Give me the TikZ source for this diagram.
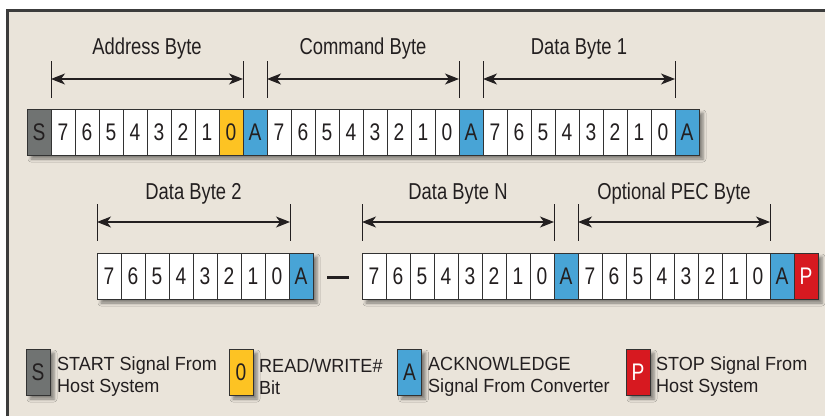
\documentclass[tikz,border=0pt]{standalone}
\usepackage{fontspec}
\setmainfont{Liberation Sans}[FakeStretch=0.8]
\newfontfamily\legfont{Liberation Sans}[FakeStretch=0.95]
\usetikzlibrary{arrows.meta,shadows.blur}
\definecolor{bgc}{RGB}{234,228,218}
\definecolor{framec}{RGB}{60,60,60}
\definecolor{inkc}{RGB}{35,31,32}
\definecolor{edgec}{RGB}{50,50,50}
\definecolor{grayc}{RGB}{112,115,114}
\definecolor{yelc}{RGB}{253,195,35}
\definecolor{bluec}{RGB}{72,164,214}
\definecolor{redc}{RGB}{215,25,32}
\tikzset{
  cell/.style={rectangle, draw=edgec, line width=0.9pt, minimum width=24pt,
    minimum height=46pt, inner sep=0pt, text=inkc, font=\fontsize{24}{24}\selectfont},
  cW/.style={fill=white},
  cS/.style={fill=grayc},
  cY/.style={fill=yelc},
  cA/.style={fill=bluec},
  cP/.style={fill=redc, text=white},
  rowshade/.style={fill=white, blur shadow={shadow xshift=4pt, shadow yshift=-4pt,
    shadow blur radius=3pt, shadow opacity=45}},
  lab/.style={anchor=base, inner sep=0pt, text=inkc, font=\fontsize{23}{23}\selectfont},
  dimline/.style={draw=inkc, line width=1.1pt,
    {Stealth[length=14pt,width=11pt,inset=4pt]}-{Stealth[length=14pt,width=11pt,inset=4pt]}},
  tick/.style={draw=inkc, line width=0.9pt},
  legbox/.style={cell, blur shadow={shadow xshift=4pt, shadow yshift=-4pt,
    shadow blur radius=3pt, shadow opacity=45}},
  legtext/.style={anchor=west, inner sep=0pt, align=left, text=inkc,
    font=\legfont\fontsize{19}{22}\selectfont},
}
\begin{document}
\begin{tikzpicture}[x=1pt,y=-1pt]
\useasboundingbox (0,0) rectangle (825,416);
\fill[bgc] (7,10) rectangle (825,416);
\draw[framec, line width=2.7pt, line join=miter] (7.3,416) -- (7.3,10.7) -- (825,10.7);

% ---------- row 1 ----------
\path[rowshade] (27,109) rectangle (699,155);
\foreach \t/\s [count=\i from 0] in {S/cS,7/cW,6/cW,5/cW,4/cW,3/cW,2/cW,1/cW,0/cY,A/cA,
  7/cW,6/cW,5/cW,4/cW,3/cW,2/cW,1/cW,0/cW,A/cA,
  7/cW,6/cW,5/cW,4/cW,3/cW,2/cW,1/cW,0/cW,A/cA}
  \node[cell,\s] (r1c\i) at ({39+24*\i},132) {\t};

% ---------- row 2 ----------
\path[rowshade] (97,253) rectangle (313,299);
\foreach \t/\s [count=\i from 0] in {7/cW,6/cW,5/cW,4/cW,3/cW,2/cW,1/cW,0/cW,A/cA}
  \node[cell,\s] (r2a\i) at ({109+24*\i},276) {\t};
\path[rowshade] (362,253) rectangle (818,299);
\foreach \t/\s [count=\i from 0] in {7/cW,6/cW,5/cW,4/cW,3/cW,2/cW,1/cW,0/cW,A/cA,
  7/cW,6/cW,5/cW,4/cW,3/cW,2/cW,1/cW,0/cW,A/cA,P/cP}
  \node[cell,\s] (r2b\i) at ({374+24*\i},276) {\t};

\coordinate (dashL) at (327,277);
\coordinate (dashR) at (349,277);
\draw[inkc, line width=3pt] (dashL) -- (dashR);

% ---------- dimension arrows, row 1 ----------
\foreach \nm/\xa/\xb/\txt in {addr/51/243/Address Byte, cmd/267/459/Command Byte, db1/483/675/Data Byte 1}{
  \coordinate (\nm Lt) at (\xa,61); \coordinate (\nm Lb) at (\xa,98);
  \coordinate (\nm Rt) at (\xb,61); \coordinate (\nm Rb) at (\xb,98);
  \coordinate (\nm L) at (\xa,79); \coordinate (\nm R) at (\xb,79);
  \draw[tick] (\nm Lt) -- (\nm Lb);
  \draw[tick] (\nm Rt) -- (\nm Rb);
  \draw[dimline] (\nm L) -- (\nm R);
  \node[lab] (\nm lab) at ({(\xa+\xb)/2},54) {\txt};
}
% ---------- dimension arrows, row 2 ----------
\foreach \nm/\xa/\xb/\txt in {db2/97/290/Data Byte 2, dbn/362/554/Data Byte N, pec/578/770/Optional PEC Byte}{
  \coordinate (\nm Lt) at (\xa,204); \coordinate (\nm Lb) at (\xa,241);
  \coordinate (\nm Rt) at (\xb,204); \coordinate (\nm Rb) at (\xb,241);
  \coordinate (\nm L) at (\xa,222); \coordinate (\nm R) at (\xb,222);
  \draw[tick] (\nm Lt) -- (\nm Lb);
  \draw[tick] (\nm Rt) -- (\nm Rb);
  \draw[dimline] (\nm L) -- (\nm R);
  \node[lab] (\nm lab) at ({(\xa+\xb)/2},199) {\txt};
}

% ---------- legend ----------
\node[legbox,cS] (legS) at (38,372) {S};
\node[legtext] (legSt) at (57,377) {START Signal From\\Host System};
\node[legbox,cY] (legY) at (241,372) {0};
\node[legtext] (legYt) at (259,377) {READ/WRITE\#\\Bit};
\node[legbox,cA] (legA) at (409.5,372) {A};
\node[legtext] (legAt) at (428,377) {ACKNOWLEDGE\\Signal From Converter};
\node[legbox,cP] (legP) at (638,372) {P};
\node[legtext] (legPt) at (656,377) {STOP Signal From\\Host System};
\end{tikzpicture}
\end{document}
